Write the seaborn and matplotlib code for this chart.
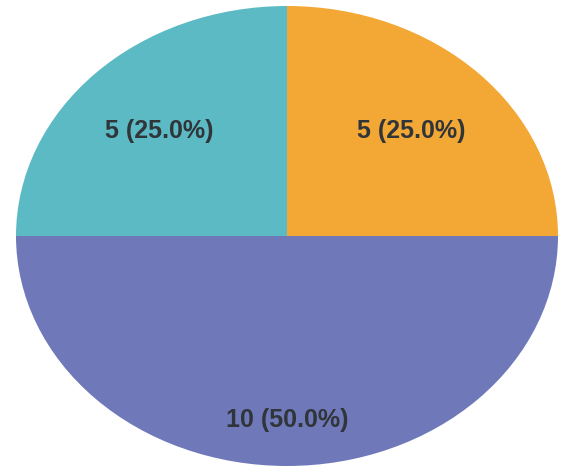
import matplotlib
matplotlib.use("Agg")
import matplotlib.pyplot as plt
import seaborn as sns

# slice data, clockwise from 12 o'clock
categories = ["Orange", "Purple", "Teal"]
counts = [5, 10, 5]
colors = ["#f3a734", "#6f79b9", "#5cbac5"]

sns.set_theme(style="white")
plt.rcParams['font.family'] = ['Liberation Sans', 'DejaVu Sans']

fig = plt.figure(figsize=(5.61, 4.68), dpi=100)
# the scanned pie is an ellipse, so let the axes stretch it
ax = fig.add_axes([16 / 561, 2 / 468, 542 / 561, 460 / 468])

total = sum(counts)
wedges, texts, autotexts = ax.pie(
    counts,
    colors=colors,
    startangle=90,
    counterclock=False,
    autopct=lambda p: f"{round(p * total / 100):d} ({p:.1f}%)",
    pctdistance=0.72,
    textprops=dict(fontsize=18, fontweight='bold', color='#30353a'),
    wedgeprops=dict(linewidth=0),
)
# small nudges so labels sit where the reference has them
autotexts[0].set_position((0.46, 0.455))
autotexts[2].set_position((-0.47, 0.455))
autotexts[1].set_position((0.0, -0.80))

ax.set_aspect('auto')
ax.set_xlim(-1, 1)
ax.set_ylim(-1, 1)
ax.axis('off')

fig.savefig("out.png", dpi=100, facecolor='white')
